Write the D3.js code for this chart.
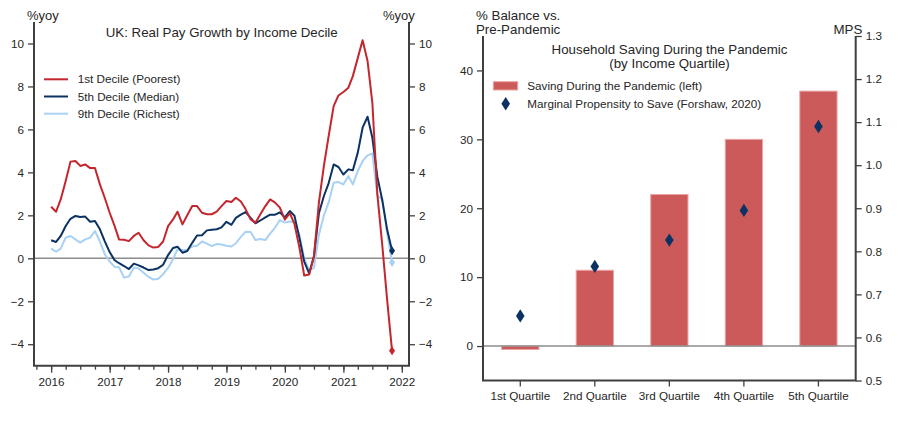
<!DOCTYPE html>
<html>
<head>
<meta charset="utf-8">
<script src="https://cdn.jsdelivr.net/npm/d3@7"></script>
<style>
  body { margin: 0; background: #fff; }
  svg { display: block; font-family: "Liberation Sans", Arial, sans-serif; }
  text { fill: #262626; }
</style>
</head>
<body>
<svg id="chart" width="903" height="427"></svg>
<script>
// ---- data ----
const firstMonth = new Date(2016, 0, 1)   // Jan 2016, monthly

const decile1 = [2.4, 2.17, 2.74, 3.6, 4.5, 4.53, 4.3, 4.37, 4.2, 4.2, 3.44, 2.82,
  2.12, 1.5, 0.87, 0.86, 0.8, 1.04, 1.19, 0.84, 0.6, 0.5, 0.53, 0.78,
  1.5, 1.81, 2.17, 1.58, 2.0, 2.43, 2.43, 2.12, 2.05, 2.05, 2.17, 2.43,
  2.67, 2.62, 2.82, 2.64, 2.28, 1.81, 1.66, 2.05, 2.43, 2.74, 2.59, 2.36,
  1.8, 2.1, 1.6, 0.5, -0.8, -0.75, 0.1, 2.6, 4.3, 5.7, 7.08, 7.58,
  7.74, 7.94, 8.48, 9.33, 10.15, 9.18, 7.24, 3.0, 0.6, -1.9, -4.3]

const decile5 = [0.84, 0.76, 1.04, 1.5, 1.84, 1.97, 1.92, 1.94, 1.7, 1.74, 1.35, 0.8,
  0.29, -0.09, -0.23, -0.36, -0.5, -0.25, -0.33, -0.43, -0.55, -0.52, -0.46, -0.3,
  0.15, 0.48, 0.54, 0.26, 0.34, 0.72, 1.06, 1.07, 1.3, 1.33, 1.35, 1.44,
  1.7, 1.56, 1.88, 2.03, 2.15, 1.88, 1.63, 1.76, 1.9, 2.03, 2.03, 2.14,
  1.9, 2.2, 1.98, 0.95, -0.15, -0.7, 0.1, 2.1, 2.9, 3.5, 4.37, 4.25,
  3.9, 4.14, 4.1, 4.92, 6.08, 6.59, 5.61, 3.8, 2.7, 1.35, 0.35]

const decile9 = [0.45, 0.31, 0.45, 0.96, 1.04, 0.88, 0.73, 0.88, 0.96, 1.27, 0.78, 0.19,
  -0.15, -0.4, -0.42, -0.9, -0.85, -0.43, -0.47, -0.67, -0.87, -0.99, -0.95, -0.74,
  -0.45, -0.05, 0.42, 0.37, 0.4, 0.55, 0.58, 0.78, 0.68, 0.57, 0.66, 0.64,
  0.58, 0.55, 0.7, 1.0, 1.24, 1.22, 0.85, 0.9, 0.85, 1.15, 1.43, 1.78,
  1.66, 1.71, 1.69, 1.1, 0.0, -0.55, -0.45, 1.1, 2.0, 2.6, 3.52, 3.55,
  3.44, 3.83, 3.44, 4.06, 4.53, 4.79, 4.88, 2.9, 2.75, 1.2, -0.2]

const decileNames = ["1st Decile (Poorest)", "5th Decile (Median)", "9th Decile (Richest)"]
const yoyTicks = [-4, -2, 0, 2, 4, 6, 8, 10]
const yearTicks = [2016, 2017, 2018, 2019, 2020, 2021, 2022]

const quartiles = ["1st Quartile", "2nd Quartile", "3rd Quartile", "4th Quartile", "5th Quartile"]
const saving = [-0.5, 11, 22, 30, 37]
const mps = [0.65, 0.765, 0.826, 0.895, 1.09]
const savingTicks = [0, 10, 20, 30, 40]
const mpsTicks = [0.5, 0.6, 0.7, 0.8, 0.9, 1.0, 1.1, 1.2, 1.3]

// ---- styles ----
const red = "#c4262e", navy = "#0b3262", light = "#a8d1f3"
const barFill = "#cd5a5b", barEdge = "#eba5a5"
const axisCol = "#404040", zeroCol = "#8c8c8c"

const svg = d3.select("#chart")

function diamond(w, h) {
  return "M0," + (-h) + "L" + w + ",0L0," + h + "L" + (-w) + ",0Z"
}

// =================== left panel ===================
const L = { x0: 34, x1: 409, y0: 22, y1: 365.7 }
const months = decile1.map((d, i) => d3.timeMonth.offset(firstMonth, i))

const x = d3.scaleTime()
  .domain([new Date(2015, 8, 16), new Date(2022, 1, 15)])
  .range([L.x0, L.x1])
const y = d3.scaleLinear().domain([-5, 11]).range([L.y1, L.y0])

const left = svg.append("g")

left.append("line")
  .attr("x1", L.x0).attr("x2", L.x1)
  .attr("y1", y(0)).attr("y2", y(0))
  .attr("stroke", zeroCol).attr("stroke-width", 1.5)

const yAxisL = d3.axisLeft(y).tickValues(yoyTicks).tickSize(6).tickPadding(4).tickFormat(d => d3.format("")(d).replace("-", "\u2212"))
const yAxisR = d3.axisRight(y).tickValues(yoyTicks).tickSize(6).tickPadding(4).tickFormat(d => d3.format("")(d).replace("-", "\u2212"))

function styleAxis(g) {
  g.select(".domain").remove()
  g.selectAll(".tick line").attr("stroke", axisCol).attr("stroke-width", 1.3)
  g.selectAll(".tick text").attr("fill", "#262626").style("font-size", "11.7px")
    .style("font-family", "'Liberation Sans', Arial, sans-serif")
}

left.append("g").attr("transform", "translate(" + L.x0 + ",0)").call(yAxisL).call(styleAxis)
left.append("g").attr("transform", "translate(" + L.x1 + ",0)").call(yAxisR).call(styleAxis)

// quarterly minor ticks + yearly major ticks
const quarters = d3.timeMonth.every(3).range(new Date(2015, 9, 1), new Date(2022, 1, 1))
const xMinor = d3.axisBottom(x).tickValues(quarters).tickSize(4).tickFormat("")
const xMajor = d3.axisBottom(x).tickValues(yearTicks.map(yr => new Date(yr, 0, 1)))
  .tickSize(7).tickPadding(5).tickFormat(d3.timeFormat("%Y"))
left.append("g").attr("transform", "translate(0," + L.y1 + ")").call(xMinor).call(styleAxis)
left.append("g").attr("transform", "translate(0," + L.y1 + ")").call(xMajor).call(styleAxis)

// frame lines
left.append("path")
  .attr("d", "M" + L.x0 + "," + L.y0 + "V" + L.y1 + "H" + L.x1 + "V" + L.y0)
  .attr("fill", "none").attr("stroke", axisCol).attr("stroke-width", 2)

const series = [
  { name: decileNames[0], values: decile1, color: red },
  { name: decileNames[1], values: decile5, color: navy },
  { name: decileNames[2], values: decile9, color: light }
]

const line = d3.line().x((d, i) => x(months[i])).y(d => y(d))

// draw light first so darker ones sit above
series.slice().reverse().forEach(s => {
  left.append("path")
    .datum(s.values)
    .attr("d", line)
    .attr("fill", "none")
    .attr("stroke", s.color)
    .attr("stroke-width", 2)
    .attr("stroke-linejoin", "round")
  const last = s.values.length - 1
  left.append("path")
    .attr("d", diamond(3, 4.5))
    .attr("transform", "translate(" + x(months[last]) + "," + y(s.values[last]) + ")")
    .attr("fill", s.color)
})

left.append("text")
  .attr("x", 221.7).attr("y", 37)
  .attr("text-anchor", "middle")
  .style("font-size", "13.3px")
  .text("UK: Real Pay Growth by Income Decile")

left.append("text").attr("x", 27).attr("y", 20).style("font-size", "13px").text("%yoy")
left.append("text").attr("x", 383).attr("y", 20).style("font-size", "13px").text("%yoy")

const legL = left.selectAll(".legL").data(series).enter().append("g")
  .attr("transform", (d, i) => "translate(44," + (79.3 + i * 17.2) + ")")
legL.append("line").attr("x1", 0).attr("x2", 24)
  .attr("stroke", d => d.color).attr("stroke-width", 2)
legL.append("text").attr("x", 33.7).attr("dy", "0.35em")
  .style("font-size", "11.7px").text(d => d.name)

// =================== right panel ===================
const R = { x0: 483, x1: 855.7, y0: 36, y1: 380.5 }

const xb = d3.scaleBand().domain(quartiles).range([R.x0, R.x1]).paddingInner(0.5).paddingOuter(0.25)
const ys = d3.scaleLinear().domain([-5, 45]).range([R.y1, R.y0])
const ym = d3.scaleLinear().domain([0.5, 1.3]).range([R.y1, R.y0])

const right = svg.append("g")

right.selectAll(".bar").data(saving).enter().append("rect")
  .attr("x", (d, i) => xb(quartiles[i]))
  .attr("width", xb.bandwidth())
  .attr("y", d => ys(Math.max(0, d)))
  .attr("height", d => Math.abs(ys(d) - ys(0)))
  .attr("fill", barFill)
  .attr("stroke", barEdge)
  .attr("stroke-width", 1)

right.append("line")
  .attr("x1", R.x0).attr("x2", R.x1)
  .attr("y1", ys(0)).attr("y2", ys(0))
  .attr("stroke", zeroCol).attr("stroke-width", 1.5)

right.selectAll(".mps").data(mps).enter().append("path")
  .attr("d", diamond(4.3, 6.7))
  .attr("transform", (d, i) => "translate(" + (xb(quartiles[i]) + xb.bandwidth() / 2) + "," + ym(d) + ")")
  .attr("fill", navy)

right.append("g").attr("transform", "translate(" + R.x0 + ",0)")
  .call(d3.axisLeft(ys).tickValues(savingTicks).tickSize(6).tickPadding(4))
  .call(styleAxis)
right.append("g").attr("transform", "translate(" + R.x1 + ",0)")
  .call(d3.axisRight(ym).tickValues(mpsTicks).tickSize(6).tickPadding(4).tickFormat(d3.format(".1f")))
  .call(styleAxis)
right.append("g").attr("transform", "translate(0," + R.y1 + ")")
  .call(d3.axisBottom(xb).tickSize(6).tickPadding(5))
  .call(styleAxis)

right.append("path")
  .attr("d", "M" + R.x0 + "," + R.y0 + "V" + R.y1 + "H" + R.x1 + "V" + R.y0)
  .attr("fill", "none").attr("stroke", axisCol).attr("stroke-width", 2)

right.append("text").attr("x", 669.5).attr("y", 53.5).attr("text-anchor", "middle")
  .style("font-size", "13.3px").text("Household Saving During the Pandemic")
right.append("text").attr("x", 669.5).attr("y", 68).attr("text-anchor", "middle")
  .style("font-size", "13.3px").text("(by Income Quartile)")

right.append("text").attr("x", 476).attr("y", 19.5).style("font-size", "13.3px").text("% Balance vs.")
right.append("text").attr("x", 476).attr("y", 33.5).style("font-size", "13.3px").text("Pre-Pandemic")
right.append("text").attr("x", 862.3).attr("y", 33.5).attr("text-anchor", "end")
  .style("font-size", "13.3px").text("MPS")

right.append("rect").attr("x", 493.3).attr("y", 81.7).attr("width", 24.4).attr("height", 8.3)
  .attr("fill", barFill).attr("stroke", barEdge).attr("stroke-width", 1)
right.append("text").attr("x", 527.3).attr("y", 86).attr("dy", "0.35em")
  .style("font-size", "11.7px").text("Saving During the Pandemic (left)")
right.append("path").attr("d", diamond(4.3, 6.7))
  .attr("transform", "translate(505.7,103.7)").attr("fill", navy)
right.append("text").attr("x", 527.3).attr("y", 103.7).attr("dy", "0.35em")
  .style("font-size", "11.7px").text("Marginal Propensity to Save (Forshaw, 2020)")
</script>
</body>
</html>
